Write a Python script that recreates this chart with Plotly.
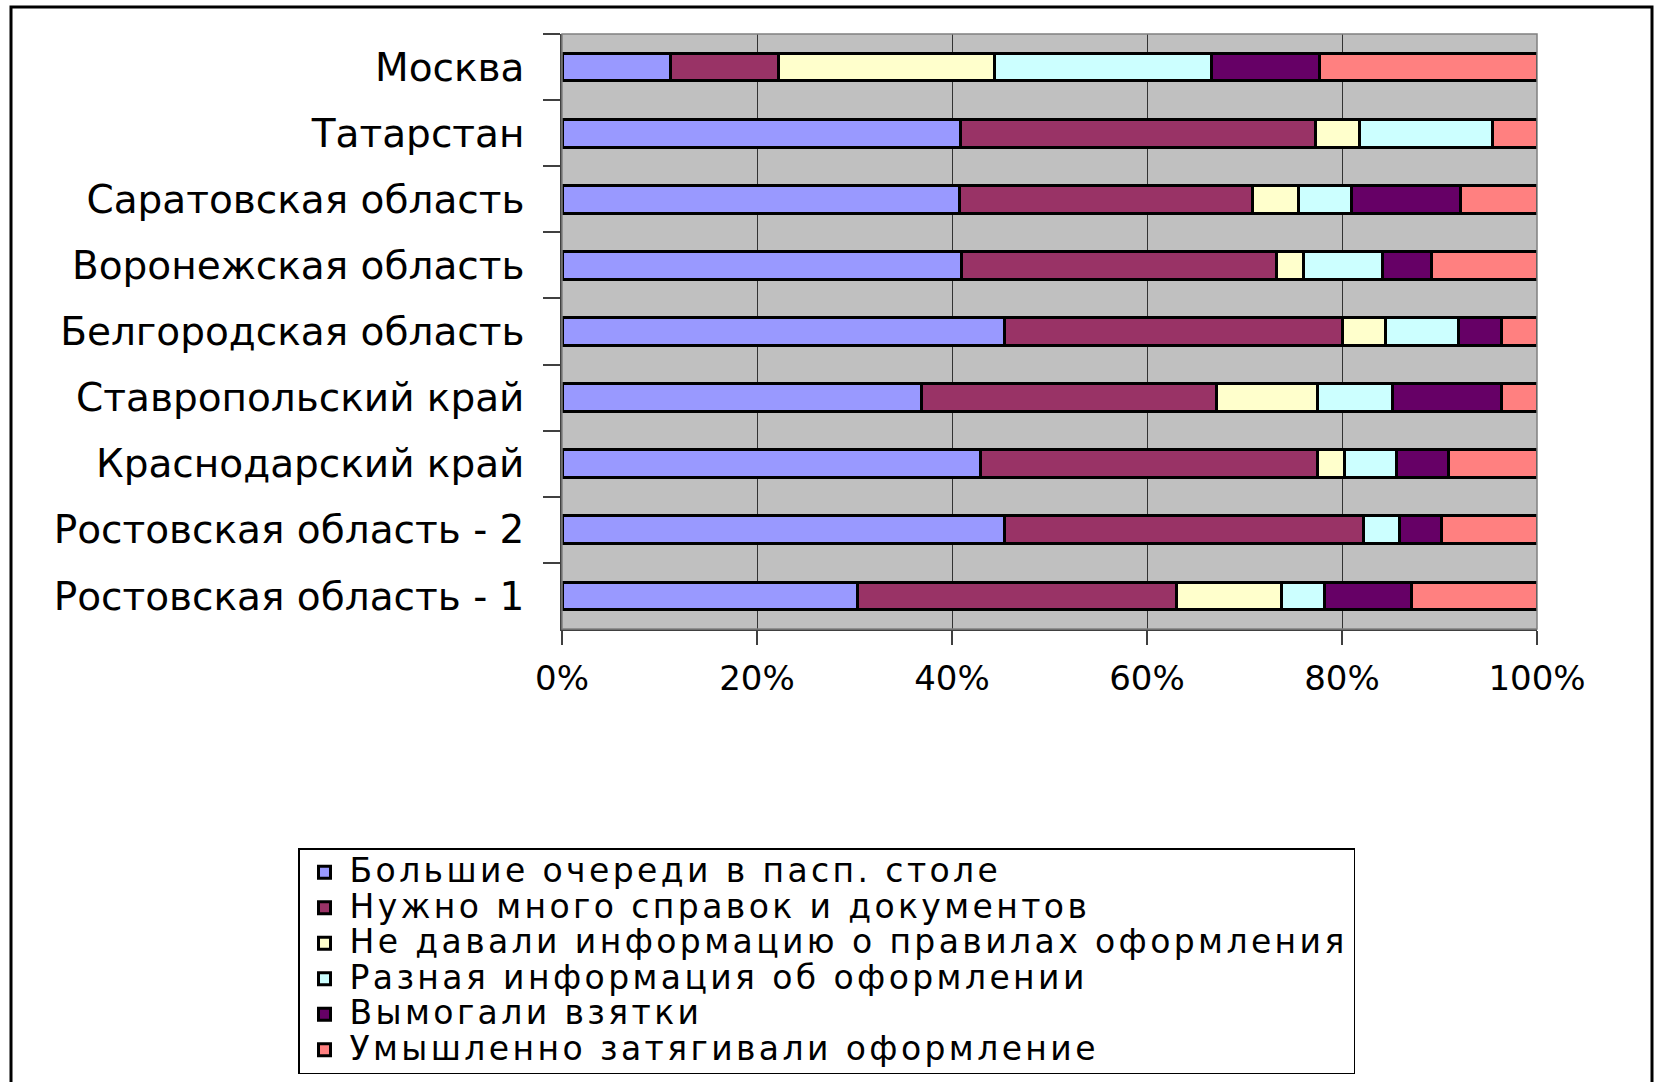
import plotly.graph_objects as go

categories = ["Москва", "Татарстан", "Саратовская область", "Воронежская область",
              "Белгородская область", "Ставропольский край", "Краснодарский край",
              "Ростовская область - 2", "Ростовская область - 1"]

series_names = ["Большие очереди в пасп. столе",
                "Нужно много справок и документов",
                "Не давали информацию о правилах оформления",
                "Разная информация об оформлении",
                "Вымогали взятки",
                "Умышленно затягивали оформление"]

queues     = [11.1, 40.9, 40.8, 41.0, 45.4, 36.9, 42.9, 45.4, 30.3]
documents  = [11.1, 36.4, 30.0, 32.3, 34.6, 30.2, 34.6, 36.8, 32.7]
no_info    = [22.2,  4.5,  4.7,  2.8,  4.5, 10.4,  2.8,  0.0, 10.8]
diff_info  = [22.2, 13.6,  5.5,  8.1,  7.4,  7.7,  5.3,  3.7,  4.4]
bribes     = [11.1,  0.0, 11.2,  5.0,  4.5, 11.2,  5.3,  4.3,  8.9]
delays     = [22.3,  4.6,  7.8, 10.8,  3.6,  3.6,  9.1,  9.8, 12.9]

x_tick_vals = [0, 20, 40, 60, 80, 100]
x_tick_text = ["0%", "20%", "40%", "60%", "80%", "100%"]

colors = ["#9999FF", "#993366", "#FFFFCC", "#CCFFFF", "#660066", "#FF8080"]
values = [queues, documents, no_info, diff_info, bribes, delays]

W, H = 1654, 1082
L, R, T, B = 562, 1537, 34, 629
pw, ph = R - L, B - T

def px(x):
    return (x - L) / pw

def py(y):
    return (B - y) / ph

legend_style = "font-size:33px;letter-spacing:3.4px"

fig = go.Figure()
for name, vals, col in zip(series_names, values, colors):
    fig.add_trace(go.Bar(
        y=categories, x=vals, orientation="h",
        name='<span style="%s">%s</span>' % (legend_style, name),
        marker=dict(color=col, line=dict(color="black", width=3)),
    ))

fig.update_layout(
    width=W, height=H,
    margin=dict(l=L, r=W - R, t=T, b=H - B, pad=0, autoexpand=False),
    barmode="stack", bargap=0.58,
    plot_bgcolor="#C0C0C0", paper_bgcolor="white",
    font=dict(family="DejaVu Sans", color="black"),
    xaxis=dict(range=[0, 100], tickmode="array", tickvals=x_tick_vals,
               ticktext=x_tick_text,
               showgrid=True, gridcolor="#333333", gridwidth=1,
               showline=True, linecolor="#404040", linewidth=1.5,
               ticks="outside", ticklen=14, tickcolor="#404040", tickwidth=1.5,
               ticklabelstandoff=4, tickfont=dict(size=34), zeroline=False,
               fixedrange=True),
    yaxis=dict(autorange="reversed", tickson="boundaries", showgrid=False,
               showline=True, linecolor="#404040", linewidth=1.5,
               ticks="outside", ticklen=17, tickcolor="#404040", tickwidth=1.5,
               ticklabelstandoff=28, tickfont=dict(size=39), fixedrange=True),
    legend=dict(x=px(298), y=py(848), xanchor="left", yanchor="top",
                traceorder="normal", bgcolor="white", bordercolor="black",
                borderwidth=1.5, font=dict(size=25), tracegroupgap=0,
                itemwidth=40),
    showlegend=True,
)

# plot-area border (gray top and right) and outer frame
fig.add_shape(type="rect", xref="paper", yref="paper", x0=0, x1=1, y0=0, y1=1,
              line=dict(color="#808080", width=1.5), layer="above")
fig.add_shape(type="rect", xref="paper", yref="paper",
              x0=px(11), x1=px(1652), y0=py(1095), y1=py(7),
              line=dict(color="black", width=3))

fig.write_html("out.html",
               config={"displayModeBar": False},
               post_script="document.body.style.margin='0';"
                           "document.body.style.overflow='hidden';")
